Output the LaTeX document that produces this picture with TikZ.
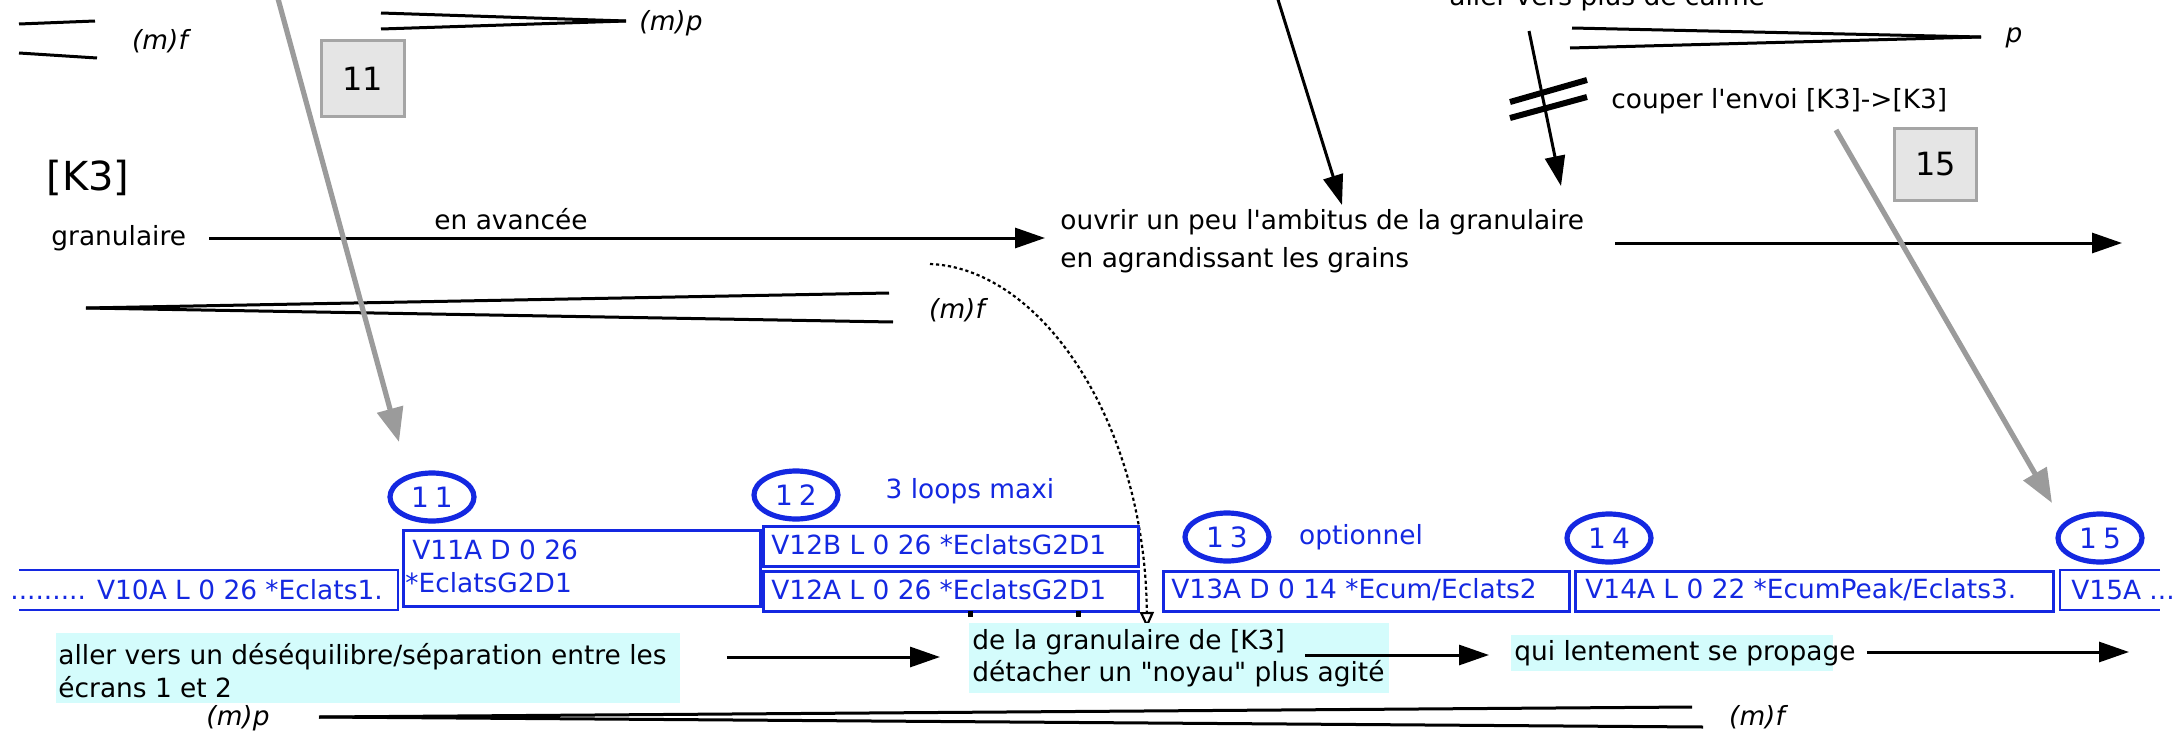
\documentclass[tikz,border=0pt]{standalone}
\usepackage{fontspec}
\setmainfont{DejaVu Sans}[Ligatures=TeXOff]
\usetikzlibrary{arrows.meta,shapes.geometric,calc}
\definecolor{myblue}{RGB}{20,40,225}
\definecolor{cyanbg}{RGB}{212,252,252}
\definecolor{boxgray}{RGB}{229,229,229}
\definecolor{boxborder}{RGB}{165,165,165}
\definecolor{arrgray}{RGB}{155,155,155}
\begin{document}
\begin{tikzpicture}[x=0.5pt,y=-0.5pt,
  txt/.style={inner sep=0pt, font=\fontsize{13.2}{16.5}\selectfont},
  itx/.style={inner sep=0pt, font=\fontsize{13.2}{16.5}\selectfont\itshape},
  btx/.style={txt, text=myblue},
  hp/.style={line width=1.5pt},
  arr/.style={line width=1.5pt, -{Triangle[length=15pt,width=10pt]}},
  garr/.style={line width=2.6pt, draw=arrgray, -{Triangle[length=17pt,width=13pt]}},
  numbox/.style={draw=boxborder, fill=boxgray, line width=1.5pt, inner sep=0pt, font=\fontsize{16}{19}\selectfont, anchor=north west},
  bbox/.style={draw=myblue, line width=1.4pt, inner sep=0pt, anchor=north west},
  circ/.style={ellipse, draw=myblue, line width=2.6pt, inner sep=0pt, minimum width=42pt, minimum height=24pt, text=myblue, font=\fontsize{14}{16}\selectfont},
  cybg/.style={fill=cyanbg, inner sep=0pt, anchor=north west}
]
\useasboundingbox (0,0) rectangle (2179,739);
\clip (0,0) rectangle (2179,739);

% ---------- top left
\draw[hp] (19,24) -- (95,21);
\draw[hp] (19,53) -- (97,58);
\node[itx] (mfA) at (160,41) {(m)f};
\node[numbox, minimum width=41.5pt, minimum height=38pt] (n11) at (320,39) {11};
\coordinate (hpAtip) at (626,21);
\draw[hp] (381,13) -- (hpAtip);
\draw[hp] (381,29) -- (hpAtip);
\node[itx] (mpA) at (671,23) {(m)p};

% ---------- top right
\node[txt, anchor=base west] (calme) at (1449,5) {aller vers plus de calme};
\coordinate (hpBtip) at (1981,37);
\draw[hp] (1572,28) -- (hpBtip);
\draw[hp] (1570,48) -- (hpBtip);
\node[itx] (pB) at (2014,38) {p};
\node[txt, anchor=west] (couper) at (1611,101) {couper l'envoi [K3]->[K3]};
\node[numbox, minimum width=41pt, minimum height=36pt] (n15) at (1893,127) {15};
\coordinate (a1s) at (1275,-10);
\coordinate (a1e) at (1342,205);
\draw[arr] (a1s) -- (a1e);
\coordinate (a2s) at (1529,31);
\coordinate (a2e) at (1561,186);
\draw[arr] (a2s) -- (a2e);
\draw[line width=3pt] (1510,102) -- (1587,80);
\draw[line width=3pt] (1510,118) -- (1587,97);

% ---------- middle
\node[txt, font=\fontsize{20}{24}\selectfont] (k3) at (88,178) {[K3]};
\node[txt, anchor=west] (gran) at (51,238) {granulaire};
\node[txt] (avance) at (511,219) {en avancée};
\node[txt, anchor=west, align=left, font=\fontsize{13.2}{19}\selectfont] (ouvrir) at (1060,241) {ouvrir un peu l'ambitus de la granulaire\\en agrandissant les grains};
\coordinate (ya) at (0,238);
\draw[arr, shorten <=11.5pt, shorten >=7.5pt] (gran.east |- ya) -- (ouvrir.west |- ya);
\coordinate (a3e) at (2122,243);
\draw[arr, shorten <=15.5pt] (ouvrir.east |- a3e) -- (a3e);

\coordinate (hpCtip) at (86,308);
\draw[hp] (889,293) -- (hpCtip);
\draw[hp] (893,322) -- (hpCtip);
\node[itx] (mfC) at (957,310) {(m)f};
\coordinate (ds) at (930,264);
\coordinate (de) at (1147,628);
\draw[line width=1.1pt, dash pattern=on 1.6pt off 1.4pt, -{Triangle[open,length=8pt,width=7pt]}] (ds) .. controls (1040,268) and (1145,420) .. (de);

% ---------- bottom: circles
\node[circ] (c11) at (432,497) {1\hspace{3pt}1};
\node[circ] (c12) at (796,495) {1\hspace{3pt}2};
\node[btx] (loops) at (970,491) {3 loops maxi};
\node[circ] (c13) at (1227,537) {1\hspace{3pt}3};
\node[btx] (opt) at (1361,537) {optionnel};
\node[circ] (c14) at (1609,538) {1\hspace{3pt}4};
\node[circ] (c15) at (2100,538) {1\hspace{3pt}5};

% ---------- bottom: boxes
\draw[myblue, line width=1.4pt] (19,570) -- (398,570) -- (398,610) -- (19,610);
\node[bbox, minimum width=178.5pt, minimum height=38pt] (b11) at (402,529) {};
\node[bbox, minimum width=187.5pt, minimum height=20pt] (b12b) at (762,525) {};
\node[bbox, minimum width=187.5pt, minimum height=20pt] (b12a) at (762,570) {};
\node[bbox, minimum width=203pt, minimum height=20pt] (b13) at (1162,570) {};
\node[bbox, minimum width=239pt, minimum height=20pt] (b14) at (1574,570) {};
\draw[myblue, line width=1.4pt] (2160,570) -- (2060,570) -- (2060,610) -- (2160,610);

\node[btx, anchor=west] (v10) at (10,590) {......... V10A L 0 26 *Eclats1.};
\node[btx, anchor=west] (v11a) at (412,550) {V11A D 0 26};
\node[btx, anchor=west] (v11b) at (405,583) {*EclatsG2D1};
\node[btx, anchor=west] (v12b) at (771,545) {V12B L 0 26 *EclatsG2D1};
\node[btx, anchor=west] (v12a) at (771,590) {V12A L 0 26 *EclatsG2D1};
\node[btx, anchor=west] (v13) at (1171,590) {V13A D 0 14 *Ecum/Eclats2};
\node[btx, anchor=west] (v14) at (1585,590) {V14A L 0 22 *EcumPeak/Eclats3.};
\node[btx, anchor=west] (v15) at (2071,590) {V15A ...};
\fill (968,611) rectangle (973,617);
\fill (1076,611) rectangle (1081,617);

% ---------- bottom: cyan texts
\node[cybg, minimum width=312pt, minimum height=35pt] (bg1) at (56,633) {};
\node[txt, anchor=west, align=left] (t1) at (58,671) {aller vers un déséquilibre/séparation entre les\\écrans 1 et 2};
\node[cybg, minimum width=210pt, minimum height=35pt] (bg2) at (969,623) {};
\node[txt, anchor=west, align=left, font=\fontsize{13.2}{16}\selectfont] (t2) at (972,658) {de la granulaire de [K3]\\détacher un "noyau" plus agité};
\node[cybg, minimum width=161pt, minimum height=18pt] (bg3) at (1511,635) {};
\node[txt, anchor=west] (t3) at (1514,653) {qui lentement se propage};

\coordinate (yb) at (0,657);
\draw[arr, shorten <=23pt, shorten >=14.5pt] (bg1.east |- yb) -- (bg2.west |- yb);
\coordinate (a5s) at (1305,655);
\draw[arr, shorten >=11pt] (a5s) -- (bg3.west |- a5s);
\coordinate (a6e) at (2129,652);
\draw[arr, shorten <=16.5pt] (bg3.east |- a6e) -- (a6e);

% ---------- bottom hairpin
\coordinate (hpDtip) at (319,717);
\draw[hp] (1692,707) -- (hpDtip);
\draw[hp] (1703,727) -- (hpDtip);
\node[itx] (mpD) at (238,718) {(m)p};
\node[itx] (mfD) at (1757,717) {(m)f};

% ---------- gray arrows
\coordinate (g1s) at (277,-5);
\coordinate (g1e) at (399,442);
\draw[garr] (g1s) -- (g1e);
\coordinate (g2s) at (1836,130);
\coordinate (g2e) at (2052,503);
\draw[garr] (g2s) -- (g2e);
\end{tikzpicture}
\end{document}
